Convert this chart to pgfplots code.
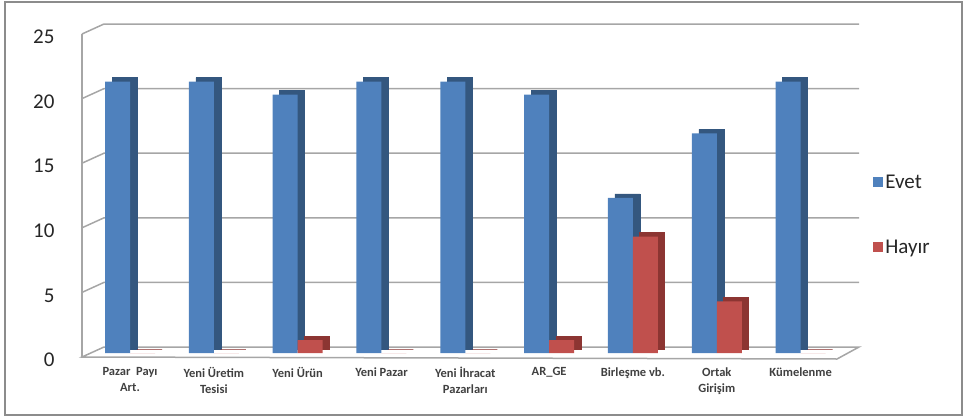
\documentclass[border=0pt]{standalone}
\usepackage{pgfplots}
\pgfplotsset{compat=1.18}
\usepackage{fontspec}
\setmainfont{Carlito}
\definecolor{evet}{HTML}{4F81BD}
\definecolor{evetD}{HTML}{34577F}
\definecolor{hayir}{HTML}{C0504D}
\definecolor{hayirD}{HTML}{8C3532}
\definecolor{gridc}{HTML}{A6A6A6}
\definecolor{framec}{HTML}{8C8C8C}
\begin{document}
\begin{tikzpicture}[x=1pt,y=1pt]
\begin{axis}[name=ax, at={(0,0)}, anchor=south west,
  scale only axis, width=755pt, height=323pt,
  xmin=-0.537, xmax=8.47, ymin=0, ymax=25,
  xtick={0,1,2,3,4,5,6,7,8},
  xticklabels={{Pazar\ \ Payı\\Art.},{Yeni Üretim\\Tesisi},{Yeni Ürün},{Yeni Pazar},{Yeni İhracat\\Pazarları},{AR\_GE},{Birleşme vb.},{Ortak\\Girişim},{Kümelenme}},
  ytick={0,5,10,15,20,25},
  axis line style={draw=none}, major tick length=0pt,
  clip=false,
  /pgf/number format/assume math mode=true,
  yticklabel style={font=\fontsize{21}{24}\selectfont, text=black!85, xshift=-27pt, yshift=-7pt},
  xticklabel style={font=\fontsize{12.5}{16}\selectfont\bfseries, align=center, yshift=-11pt, text=black!75},
  legend style={draw=none, fill=none, font=\fontsize{21}{24}\selectfont, text=black!85,
    at={(axis description cs:1.04,0.565)}, anchor=north west, row sep=46pt},
  legend cell align=left,
]
% left wall lines
\pgfplotsinvokeforeach{5,10,15,20,25}{
  \draw[gridc, line width=1.5pt] ([xshift=-3pt,yshift=-4pt]axis cs:-0.537,#1) -- ([xshift=19pt,yshift=6pt]axis cs:-0.537,#1) -- ([xshift=19pt,yshift=6pt]axis cs:8.47,#1);
}
\draw[gridc, line width=1.5pt] ([xshift=-3pt,yshift=-4pt]axis cs:-0.537,0) -- ([xshift=-3pt,yshift=-4pt]axis cs:-0.537,25);
% floor
\draw[gridc, line width=1.5pt] ([xshift=-3pt,yshift=-4pt]axis cs:-0.537,0) -- ([xshift=-3pt,yshift=-6pt]axis cs:8.47,0) -- ([xshift=19pt,yshift=6pt]axis cs:8.47,0) -- ([xshift=19pt,yshift=6pt]axis cs:-0.537,0) -- cycle;

\addplot[ybar, bar width=25pt, bar shift=-12.5pt, fill=evetD, draw=evetD, xshift=7pt, yshift=4pt, forget plot]
  coordinates {(0,21) (1,21) (2,20) (3,21) (4,21) (5,20) (6,12) (7,17) (8,21)};
\addplot[ybar, bar width=25pt, bar shift=-12.5pt, fill=evet, draw=none,
  legend image code/.code={\fill[evet] (0pt,-5pt) rectangle (10pt,5pt);}]
  coordinates {(0,21) (1,21) (2,20) (3,21) (4,21) (5,20) (6,12) (7,17) (8,21)};
\addplot[ybar, bar width=25pt, bar shift=12.5pt, fill=hayirD, draw=hayirD, line width=1pt, xshift=7pt, yshift=4pt, forget plot]
  coordinates {(0,0) (1,0) (2,1) (3,0) (4,0) (5,1) (6,9) (7,4) (8,0)};
\addplot[ybar, bar width=25pt, bar shift=12.5pt, fill=hayir, draw=none,
  legend image code/.code={\fill[hayir] (0pt,-5pt) rectangle (10pt,5pt);}]
  coordinates {(0,0) (1,0) (2,1) (3,0) (4,0) (5,1) (6,9) (7,4) (8,0)};
\legend{Evet,Hayır}
\end{axis}
\draw[framec, line width=1.2pt] (-80,-62) rectangle (877,351);
\path[use as bounding box] (-85,-65) rectangle (881,353);
\end{tikzpicture}
\end{document}
